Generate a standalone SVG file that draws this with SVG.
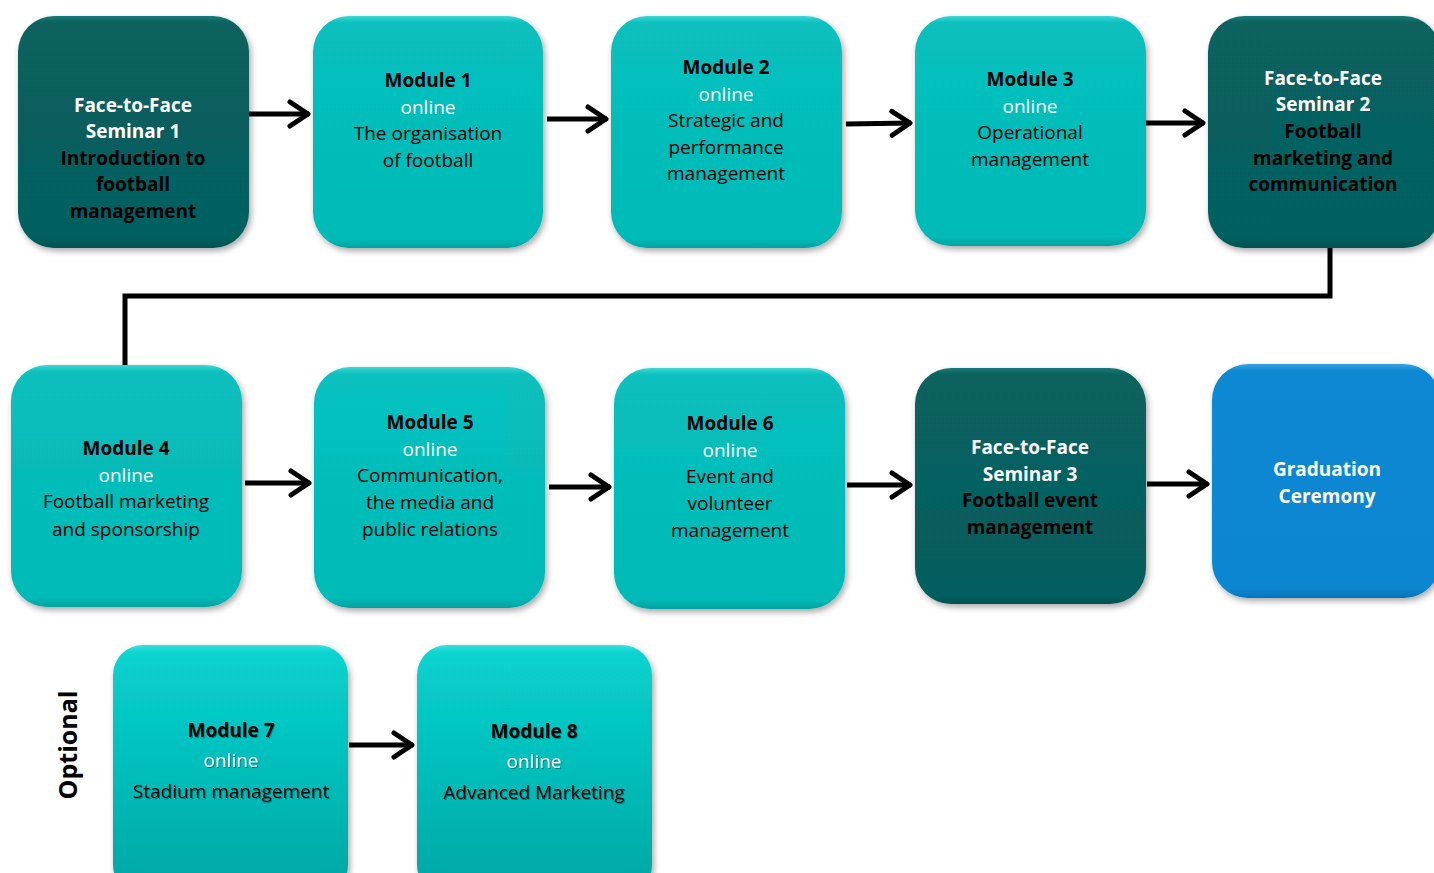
<svg xmlns="http://www.w3.org/2000/svg" width="1434" height="873" viewBox="0 0 1434 873">
<defs>
<linearGradient id="gTeal" x1="0" y1="0" x2="0" y2="1">
<stop offset="0" stop-color="#3fd6d3"/><stop offset="0.03" stop-color="#07c0bd"/><stop offset="0.96" stop-color="#05bab7"/><stop offset="1" stop-color="#04a3a0"/>
</linearGradient>
<linearGradient id="gDark" x1="0" y1="0" x2="0" y2="1">
<stop offset="0" stop-color="#1a7b79"/><stop offset="0.03" stop-color="#07625f"/><stop offset="0.96" stop-color="#06605e"/><stop offset="1" stop-color="#045250"/>
</linearGradient>
<linearGradient id="gBlue" x1="0" y1="0" x2="0" y2="1">
<stop offset="0" stop-color="#3aa2e3"/><stop offset="0.03" stop-color="#0a88d3"/><stop offset="0.96" stop-color="#0886d1"/><stop offset="1" stop-color="#0674b7"/>
</linearGradient>
<linearGradient id="gOpt" x1="0" y1="0" x2="0" y2="1">
<stop offset="0" stop-color="#3be0dc"/><stop offset="0.03" stop-color="#07d4d0"/><stop offset="1" stop-color="#03a6a3"/>
</linearGradient>
<filter id="sh" x="-10%" y="-10%" width="125%" height="125%">
<feDropShadow dx="2" dy="3" stdDeviation="3" flood-color="#000" flood-opacity="0.35"/>
</filter>
<filter id="tsh" x="-10%" y="-30%" width="120%" height="160%">
<feDropShadow dx="1" dy="1" stdDeviation="0.6" flood-color="#000" flood-opacity="0.35"/>
</filter>
<marker id="ah" markerUnits="userSpaceOnUse" markerWidth="30" markerHeight="34" viewBox="0 0 30 34" refX="25" refY="17" orient="auto">
<path d="M6,5 L24,17 L6,29" fill="none" stroke="#000" stroke-width="5" stroke-linecap="round" stroke-linejoin="round"/>
</marker>
</defs>
<style>
text{font-family:"Open Sans","Noto Sans","DejaVu Sans",sans-serif;font-size:19px;text-anchor:middle;fill:#000}
.b{font-weight:bold}
.w{fill:#fff}
.opttitle{font-size:25px;font-weight:bold}
.box{filter:url(#sh)}
.teal{fill:url(#gTeal)}
.dark{fill:url(#gDark)}
.blue{fill:url(#gBlue)}
.opt{fill:url(#gOpt)}
.con{fill:none;stroke:#000;stroke-width:5}
</style>
<rect width="1434" height="873" fill="#fff"/>

<g id="connectors">
<line class="con" x1="249" y1="114" x2="309" y2="114" marker-end="url(#ah)"/>
<line class="con" x1="547" y1="119" x2="607" y2="119" marker-end="url(#ah)"/>
<line class="con" x1="846" y1="124" x2="911" y2="123" marker-end="url(#ah)"/>
<line class="con" x1="1146" y1="123" x2="1204" y2="123" marker-end="url(#ah)"/>
<polyline class="con" points="1330,248 1330,296 125,296 125,365"/>
<line class="con" x1="245" y1="483" x2="310" y2="483" marker-end="url(#ah)"/>
<line class="con" x1="549" y1="487" x2="610" y2="487" marker-end="url(#ah)"/>
<line class="con" x1="847" y1="485" x2="911" y2="485" marker-end="url(#ah)"/>
<line class="con" x1="1147" y1="484" x2="1208" y2="484" marker-end="url(#ah)"/>
<line class="con" x1="349" y1="745" x2="413" y2="745" marker-end="url(#ah)"/>
</g>

<g id="f2f1">
<rect class="box dark" x="18" y="16" width="231" height="232" rx="36"/>
<text class="b w" x="133" y="112">Face-to-Face</text>
<text class="b w" x="133" y="138">Seminar 1</text>
<text class="b" x="133" y="165">Introduction to</text>
<text class="b" x="133" y="191">football</text>
<text class="b" x="133" y="218">management</text>
</g>

<g id="m1">
<rect class="box teal" x="313" y="16" width="230" height="232" rx="36"/>
<text class="b" x="428" y="87">Module 1</text>
<text class="w" x="428" y="114">online</text>
<text x="428" y="140">The organisation</text>
<text x="428" y="167">of football</text>
</g>

<g id="m2">
<rect class="box teal" x="611" y="16" width="231" height="232" rx="36"/>
<text class="b" x="726" y="74">Module 2</text>
<text class="w" x="726" y="101">online</text>
<text x="726" y="127">Strategic and</text>
<text x="726" y="154">performance</text>
<text x="726" y="180">management</text>
</g>

<g id="m3">
<rect class="box teal" x="915" y="16" width="231" height="230" rx="36"/>
<text class="b" x="1030" y="86">Module 3</text>
<text class="w" x="1030" y="113">online</text>
<text x="1030" y="139">Operational</text>
<text x="1030" y="166">management</text>
</g>

<g id="f2f2">
<rect class="box dark" x="1208" y="16" width="232" height="232" rx="36"/>
<text class="b w" x="1323" y="85">Face-to-Face</text>
<text class="b w" x="1323" y="111">Seminar 2</text>
<text class="b" x="1323" y="138">Football</text>
<text class="b" x="1323" y="165">marketing and</text>
<text class="b" x="1323" y="191">communication</text>
</g>

<g id="m4">
<rect class="box teal" x="11" y="365" width="231" height="242" rx="36"/>
<text class="b" x="126" y="455">Module 4</text>
<text class="w" x="126" y="482">online</text>
<text x="126" y="508">Football marketing</text>
<text x="126" y="536">and sponsorship</text>
</g>

<g id="m5">
<rect class="box teal" x="314" y="367" width="231" height="241" rx="36"/>
<text class="b" x="430" y="429">Module 5</text>
<text class="w" x="430" y="456">online</text>
<text x="430" y="482">Communication,</text>
<text x="430" y="509">the media and</text>
<text x="430" y="536">public relations</text>
</g>

<g id="m6">
<rect class="box teal" x="614" y="368" width="231" height="241" rx="36"/>
<text class="b" x="730" y="430">Module 6</text>
<text class="w" x="730" y="457">online</text>
<text x="730" y="483">Event and</text>
<text x="730" y="510">volunteer</text>
<text x="730" y="537">management</text>
</g>

<g id="f2f3">
<rect class="box dark" x="915" y="368" width="231" height="236" rx="36"/>
<text class="b w" x="1030" y="454">Face-to-Face</text>
<text class="b w" x="1030" y="481">Seminar 3</text>
<text class="b" x="1030" y="507">Football event</text>
<text class="b" x="1030" y="534">management</text>
</g>

<g id="graduation">
<rect class="box blue" x="1212" y="364" width="228" height="234" rx="36"/>
<text class="b w" x="1327" y="476">Graduation</text>
<text class="b w" x="1327" y="503">Ceremony</text>
</g>

<g id="optional-label">
<text class="opttitle" x="0" y="0" transform="translate(77,745) rotate(-90)">Optional</text>
</g>

<g id="m7">
<rect class="box opt" x="113" y="645" width="235" height="250" rx="30"/>
<text class="b" x="231" y="737" style="filter:url(#tsh)">Module 7</text>
<text class="w" x="231" y="767" style="filter:url(#tsh)">online</text>
<text x="231" y="798" style="filter:url(#tsh)">Stadium management</text>
</g>

<g id="m8">
<rect class="box opt" x="417" y="645" width="235" height="250" rx="30"/>
<text class="b" x="534" y="738" style="filter:url(#tsh)">Module 8</text>
<text class="w" x="534" y="768" style="filter:url(#tsh)">online</text>
<text x="534" y="799" style="filter:url(#tsh)">Advanced Marketing</text>
</g>
</svg>
